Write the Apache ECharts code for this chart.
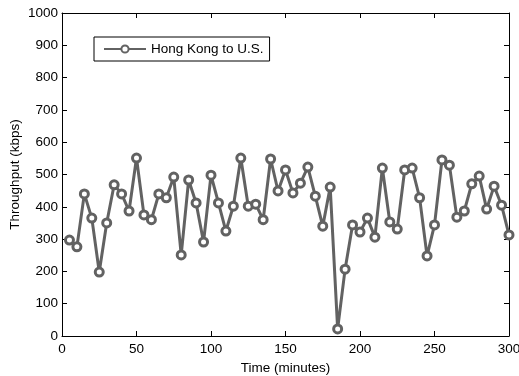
<!DOCTYPE html>
<html><head><meta charset="utf-8">
<script src="https://cdn.jsdelivr.net/npm/echarts@6/dist/echarts.min.js"></script>
<style>html,body{margin:0;padding:0;background:#fff}#c{width:519px;height:376px}</style>
</head><body><div id="c"></div>
<script>
const times = [5,10,15,20,25,30,35,40,45,50,55,60,65,70,75,80,85,90,95,100,105,110,115,120,125,130,135,140,145,150,155,160,165,170,175,180,185,190,195,200,205,210,215,220,225,230,235,240,245,250,255,260,265,270,275,280,285,290,295,300];
const throughput = [297,276,440,365,198,350,468,440,387,551,375,360,440,428,492,251,483,412,291,498,412,325,402,551,402,408,360,548,449,514,443,473,523,433,340,461,22,207,344,322,365,306,520,353,331,514,520,428,248,344,545,529,368,387,471,495,393,464,405,313];
const seriesName = 'Hong Kong to U.S.';
const xTicks = {min:0,max:300,interval:50};
const yTicks = {min:0,max:1000,interval:100};

const font = 'Liberation Sans';
const chart = echarts.init(document.getElementById('c'));
const gray = '#626262';
function axisCommon(){
  return {
    axisLine:{show:true,onZero:false,lineStyle:{color:'#000',width:1}},
    axisTick:{show:true,inside:true,length:5,lineStyle:{color:'#000'}},
    splitLine:{show:false}
  };
}
const fmt = v => String(v);
chart.setOption({
  animation:false,
  grid:{left:62,right:10,top:13,bottom:40,containLabel:false,outerBoundsMode:'none'},
  legend:{
    left:94, top:37, orient:'horizontal',
    borderColor:'#000', borderWidth:1, borderRadius:0,
    padding:[5,6,5,9], itemWidth:42, itemHeight:9, itemGap:5,
    textStyle:{fontFamily:font,fontSize:13.5,color:'#000'},
    data:[seriesName]
  },
  xAxis:[
    Object.assign(axisCommon(),{type:'value',position:'bottom',min:xTicks.min,max:xTicks.max,interval:xTicks.interval,
      name:'Time (minutes)',nameLocation:'middle',nameGap:25,nameMoveOverlap:false,
      nameTextStyle:{fontFamily:font,fontSize:13.5,color:'#000'},
      axisLabel:{fontFamily:font,fontSize:13.5,color:'#000',margin:6,formatter:fmt}}),
    Object.assign(axisCommon(),{type:'value',position:'top',min:xTicks.min,max:xTicks.max,interval:xTicks.interval,
      axisLabel:{show:false}})
  ],
  yAxis:[
    Object.assign(axisCommon(),{type:'value',position:'left',min:yTicks.min,max:yTicks.max,interval:yTicks.interval,
      name:'Throughput (kbps)',nameLocation:'middle',nameGap:40,nameMoveOverlap:false,
      nameTextStyle:{fontFamily:font,fontSize:13.5,color:'#000'},
      axisLabel:{fontFamily:font,fontSize:13.5,color:'#000',margin:4,formatter:fmt}}),
    Object.assign(axisCommon(),{type:'value',position:'right',min:yTicks.min,max:yTicks.max,interval:yTicks.interval,
      axisLabel:{show:false}})
  ],
  series:[{
    name:seriesName, type:'line', xAxisIndex:0, yAxisIndex:0,
    data: times.map((t,i)=>[t,throughput[i]]),
    symbol:'circle', symbolSize:8, showAllSymbol:true,
    lineStyle:{color:gray,width:3},
    itemStyle:{color:'#fff',borderColor:gray,borderWidth:3},
    clip:false
  }]
});
</script></body></html>
